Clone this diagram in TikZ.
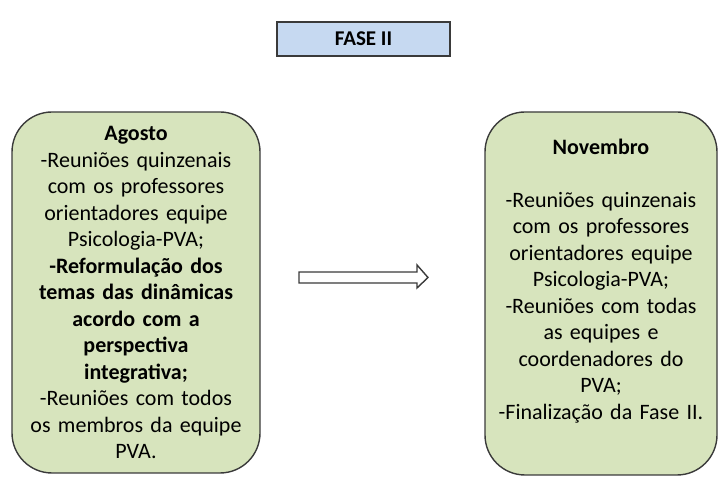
\documentclass[tikz,border=0pt]{standalone}
\usepackage{fontspec}
\setmainfont{Carlito}

\definecolor{verdeCaixa}{HTML}{D7E4BD}
\definecolor{azulFase}{HTML}{C6D9F1}
\definecolor{bordaEscura}{HTML}{3A3A3A}

\begin{document}
\begin{tikzpicture}[
        x=1pt, y=1pt,
        caixa/.style={draw=bordaEscura, fill=verdeCaixa, line width=1.4pt,
            rounded corners=40pt, align=center, inner sep=0pt,
            font=\fontsize{22}{26.5}\selectfont}
    ]
        \useasboundingbox (0,0) rectangle (721,478);

        % Titulo da fase
        \node[draw=bordaEscura, fill=azulFase, line width=1.2pt,
            minimum width=173, minimum height=34,
            font=\fontsize{21}{24}\selectfont\bfseries]
            (fase) at (363.5,439) {FASE II};

        % Agosto
        \node[caixa, minimum width=248, minimum height=361, text width=244]
            (agosto) at (136,185.5) {
                \textbf{Agosto}\\
                -Reuniões quinzenais\\
                com os professores\\
                orientadores equipe\\
                Psicologia-PVA;\\
                \textbf{-Reformulação dos}\\
                \textbf{temas das dinâmicas}\\
                \textbf{acordo com a}\\
                \textbf{perspectiva}\\
                \textbf{integrativa;}\\
                -Reuniões com todos\\
                os membros da equipe\\
                PVA.
            };

        % Novembro
        \node[caixa, minimum width=232, minimum height=363, text width=228]
            (novembro) at (601,184.5) {
                \textbf{Novembro}\\[26.5pt]
                -Reuniões quinzenais\\
                com os professores\\
                orientadores equipe\\
                Psicologia-PVA;\\
                -Reuniões com todas\\
                as equipes e\\
                coordenadores do\\
                PVA;\\
                -Finalização da Fase II.\\[2pt]
                \mbox{}
            };

        % Seta entre os meses
        \draw[draw=bordaEscura, fill=white, line width=1.4pt, line join=miter]
            (299,195) -- (417,195) -- (417,190) -- (428,200.5)
            -- (417,213) -- (417,206) -- (299,206) -- cycle;

    \end{tikzpicture}
\end{document}
